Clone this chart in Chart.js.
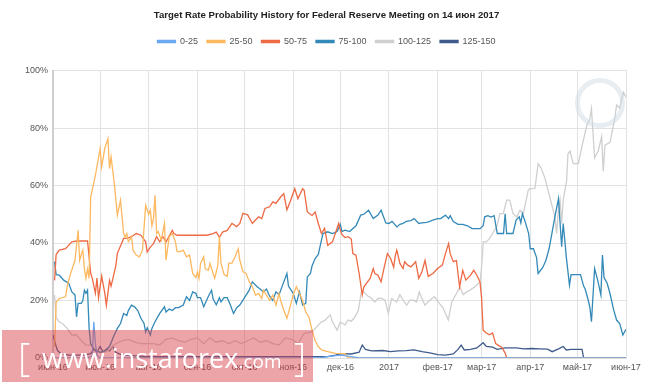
<!DOCTYPE html>
<html>
<head>
<meta charset="utf-8">
<script src="https://cdn.jsdelivr.net/npm/chart.js@4.4.0/dist/chart.umd.min.js"></script>
<style>
  html, body { margin: 0; padding: 0; background: #fff; }
  #wrap { position: relative; width: 665px; height: 385px; }
  #wm {
    position: absolute; left: 2px; top: 330px; width: 311px; height: 52px;
    background: rgba(215, 65, 75, 0.48);
    color: #fff; font-family: "Open Sans", "DejaVu Sans", sans-serif;
    white-space: nowrap; pointer-events: none;
  }
  #wm .b { position: absolute; top: 0px; font-size: 38px; font-weight: 300; }
  #wm .t { position: absolute; left: 40px; top: 9px; font-size: 27px; }
  #wm .t small { font-size: 19px; }
  #logo {
    position: absolute; left: 575px; top: 78px; width: 40px; height: 40px;
    border: 5px solid rgba(205, 215, 225, 0.45); border-radius: 50%;
    pointer-events: none;
  }
</style>
</head>
<body>
<div id="wrap">
  <canvas id="chart" width="665" height="385"></canvas>
  <div id="logo"></div>
  <div id="wm"><span class="b" style="left:16px">[</span><span class="t">www.instaforex<small>.com</small></span><span class="b" style="left:292px">]</span></div>
</div>
<script>
// x = days since 1 June 2016
const monthDays = [0, 30, 61, 92, 122, 153, 183, 214, 245, 273, 304, 334, 365];
const monthLabels = ["июн-16", "июл-16", "авг-16", "сен-16", "окт-16", "ноя-16", "дек-16", "2017", "фев-17", "мар-17", "апр-17", "май-17", "июн-17"];

const seriesNames = ["0-25", "25-50", "50-75", "75-100", "100-125", "125-150"];
const seriesColors = ["#6aa8f0", "#fdb860", "#ee6a44", "#3389b8", "#cfcfcf", "#3f5b8c"];

// probabilities in %, [day, value]
const rate0_25 = [[0,0],[20,0],[25,0.5],[26,12.6],[27,5],[28,1],[30,0],[170,0],[175,0.5],[183,1],[190,0.5],[195,0],[365,0]];

const rate25_50 = [[1,4],[2,19.5],[4,20.7],[8,21.3],[9,24.8],[11,29],[14,34],[16,44.4],[17,34],[18,36],[19,37.5],[20,31],[21,27.7],[22,31],[23,27.7],
  [24,56],[27,63.5],[30,72.8],[31,66.4],[33,73],[35,76.3],[36,65.9],[37,69.9],[39,61],[41,49.7],[43,54.9],[45,43.3],[46,42],[47,43.3],[48,40.5],
  [50,42.1],[51,37.5],[53,35.8],[55,35.2],[57,37.5],[59,53.1],[61,50],[62,51.4],[63,46],[64,48.5],[65,56.6],[66,43.3],[67,44],[69,41],[71,46.8],
  [72,34],[74,42.2],[76,43.3],[78,40.4],[79,37],[81,37],[83,37.5],[85,35.2],[87,35.8],[89,29.4],[91,28],[92,30],[93,27.7],[94,32.9],[96,35.2],
  [97,31],[99,30.5],[100,32.9],[102,29.4],[103,27.7],[105,32.3],[106,42.2],[107,33],[109,29],[111,28.4],[112,33],[114,33],[116,35.2],[118,38],
  [119,34],[121,30],[123,29.4],[125,26.5],[127,24.8],[129,21.9],[131,22.4],[133,20.7],[134,23.6],[136,21.9],[138,20.1],[140,21.9],[142,18.4],
  [144,22.4],[145,20],[147,16.7],[149,13.8],[151,17.8],[153,21.9],[155,24.8],[157,22.4],[159,20],[161,16],[163,14.3],[165,9.7],[167,6],[169,4],
  [171,2.8],[175,2.2],[180,1.6],[186,1.5],[188,0],[365,0]];

const rate50_75 = [[1,27],[2,36],[4,37.5],[8,38],[12,40.4],[15,40.7],[22,40.7],[24,29.5],[25,27.8],[27,22.5],[28,27.8],[29,21],[31,28.5],[33,22.5],
  [34,18.4],[36,27],[37,25],[40,32],[41,36.4],[43,39],[45,41.6],[47,41.6],[50,42.2],[53,43.3],[56,42.7],[59,40.4],[60,36.9],[62,38.6],[64,39.8],
  [66,42.2],[68,40.4],[70,42.2],[72,40.4],[76,44.4],[77,43.3],[79,42.7],[83,42.7],[90,42.7],[98,42.7],[102,43.3],[104,43.8],[106,42],[108,43.8],
  [111,44.4],[114,46.8],[117,45.7],[119,46.8],[121,50.3],[124,49.8],[127,46.8],[129,48],[131,49.1],[133,48.5],[135,52],[138,52.6],[140,54.3],
  [142,53.8],[145,56],[147,57.2],[149,51.5],[151,54.3],[154,58.9],[156,55.4],[159,58.9],[160,58.3],[162,50.8],[165,49.6],[167,50.8],[169,46.8],
  [171,43.3],[173,45.1],[175,39.2],[178,40.4],[182,46.8],[183,44.5],[184,43],[186,41.9],[188,42.2],[190,41.4],[191,36.3],[193,35.8],[195,29.4],
  [197,22],[198,24.7],[200,26.2],[202,27.7],[204,31.1],[205,29.4],[207,28.8],[209,26.5],[211,31.6],[213,36.3],[215,34.7],[217,31.6],[218,35.5],
  [219,37.5],[221,32.9],[223,31.1],[224,33.5],[226,32.3],[228,31.7],[231,33.5],[233,27.7],[235,30],[237,34],[239,28.4],[242,29.4],[245,31.1],
  [248,32.3],[250,36.3],[252,39.8],[253,36.3],[255,33.5],[257,33.9],[259,24.8],[261,30.5],[263,27.1],[266,28.8],[268,30.5],[270,28.8],[272,26.5],
  [273,21],[274,9.7],[276,8.7],[278,8.1],[280,8.7],[282,5],[284,4.3],[286,3.7],[288,1.7],[289,0],[365,0]];

const rate75_100 = [[1,33.5],[2,29],[4,28.8],[7,27],[10,26],[12,23],[14,22],[15,14.3],[16,19],[18,19],[19,20],[20,23.6],[21,22.5],[22,23.6],
  [23,10.3],[24,5],[26,3],[28,2.5],[30,2],[33,2.5],[36,4],[39,8],[41,10.3],[43,12],[45,15.5],[47,14.8],[48,16.5],[50,18.4],[52,17.8],[54,16.5],
  [56,13.8],[58,12],[59,9],[60,10.5],[62,8],[63,10.3],[65,12.6],[68,15.5],[71,17.8],[72,16],[74,17],[76,16.5],[78,17.5],[80,17.5],[83,18.4],
  [85,21.3],[87,20],[89,23],[91,22.5],[92,21],[94,21],[96,17.8],[99,21.5],[101,23.6],[102,20.5],[104,18.5],[106,21],[107,19.5],[109,21],[111,21],
  [113,18.4],[115,15.5],[117,17.5],[119,18.4],[122,21],[125,23.6],[127,26.5],[130,24.8],[132,24],[134,23],[136,24],[138,21.5],[140,20],[142,23],
  [144,22],[146,25],[149,29.4],[150,25],[153,22.5],[155,19],[157,23],[159,18.4],[161,19],[162,28.2],[164,29.4],[165,32],[167,34.6],[169,36],
  [171,41],[172,43.3],[175,43.9],[178,43.3],[181,44],[183,46.5],[184,44],[186,44.5],[189,44],[190,44.5],[193,46],[196,49.7],[198,50],[201,51.4],
  [204,48.5],[207,49.7],[209,51.4],[212,47],[214,46.8],[216,47.5],[219,45.6],[221,46.5],[223,46.8],[225,47.5],[228,47.8],[230,48.5],[233,46.8],
  [235,47],[238,47.2],[240,47.5],[242,48],[245,48.5],[247,48.5],[250,49.7],[252,48.5],[253,49.5],[255,47.5],[258,46.5],[261,46.5],[264,46],
  [267,45],[270,45],[272,45],[274,46],[275,49.1],[277,49.5],[279,49],[281,49.5],[283,43.3],[285,43.3],[287,43.3],[288,50.2],[289,43.3],[293,43.3],
  [295,48],[297,49.1],[298,47],[299,50.2],[301,47],[303,43.3],[304,38],[306,38],[308,35],[309,29.4],[312,31.5],[314,34],[316,38],[318,44],[320,50],
  [322,55.4],[323,47],[324,38.7],[325,46.8],[326,41],[327,35],[329,25.3],[330,29],[333,29],[336,29],[338,25],[339,24],[341,20],[342,17.5],
  [343,12.6],[345,31.1],[347,27],[349,21.9],[350,35.8],[351,28],[353,26],[355,22],[357,17],[359,13.2],[361,12],[363,8],[365,10]];

const rate100_125 = [[1,21.9],[2,14],[4,12.5],[6,12],[9,10.3],[12,8],[15,8],[18,6],[21,4.5],[24,4.5],[27,3],[30,2],[33,2],[36,3],[40,5],[44,6],
  [48,6.5],[52,5.5],[56,5],[60,5],[64,5],[68,4.5],[72,6.5],[76,7],[80,6],[84,5.5],[88,6.5],[92,7],[96,5],[100,7],[104,5.5],[108,6],[112,5],
  [116,6],[120,5],[124,6],[128,7],[132,5.5],[136,6],[140,5],[144,4.5],[148,7],[152,6.5],[156,5],[160,8.6],[165,9.1],[171,12.6],[173,13],
  [176.6,15],[178,12.6],[181,9.7],[183,12.5],[186,11.5],[188,13.2],[190,12.8],[192,14],[194.5,16.5],[196.6,23.6],[198.7,22.5],[200.8,21.5],
  [203,20.7],[205,19.5],[207,20.7],[209.4,20.7],[211.5,20.1],[213.6,15.5],[215.7,20.7],[218.9,19.5],[221,22],[223,20.1],[225.3,18.4],[227.4,20.1],
  [229.5,20.1],[231.6,19.5],[233.3,23],[234.8,21],[236.9,18.4],[240,20.1],[243,21.3],[245.4,19.5],[248.6,17.3],[251.8,13.2],[254,19.5],
  [257.1,22.5],[259.2,24.8],[261.3,22],[263.5,23],[265.6,23.6],[268.8,24.8],[272,26.5],[273,31.7],[274.1,40.4],[276,40.4],[278,41.5],[280,43.3],
  [282.6,45.6],[284.7,50.2],[286.8,50.2],[289,54.9],[291,54.9],[293,50.2],[295.4,49.1],[297.5,51.4],[299.6,50.2],[302.7,58.3],[303.8,58.9],
  [307,59],[309,67.6],[311,66],[313.4,62.5],[315.5,58],[317.6,53.5],[319.7,49.1],[320.8,43.3],[321.8,50.8],[323,55],[324,46.8],[325,55],
  [327.2,61.8],[328,71],[329.3,72],[331.4,67.6],[334.6,67.6],[336.7,73],[340,80.9],[342,83.2],[343,86.7],[345,69.6],[347.3,72],[349.5,77],
  [350.5,65],[351.6,74],[354.8,75],[357,81],[358,84],[359,88],[361,87],[363.3,92.5],[365,90.7]];

const rate125_150 = [[0,8],[2,4],[3,2.5],[5,1.5],[10,1],[20,1],[24,1.5],[26,3],[28,2],[30,4],[32,2],[34,3],[36,2.5],[38,4],[40,2],[44,1],[50,0.8],
  [60,0.5],[100,0.5],[150,0.5],[175,0.5],[180,1],[184,1.5],[190,1.4],[195,2],[197,4.5],[199,3],[203,2.5],[210,2.6],[215,2.2],[220,2.5],[225,2.6],
  [230,2.8],[235,2.2],[240,1.8],[245,1.2],[250,1],[255,1.4],[258,3],[260,4.5],[262,2.8],[266,3],[270,3.5],[274,5.3],[276,4],[280,3.8],[283,3],
  [288,3.5],[295,3.5],[300,3.2],[305,3.3],[310,3.2],[315,3.1],[318,2.2],[322,3.2],[325,4],[327,2.8],[330,3],[335,3],[337,3],[338,0],[365,0]];

const yTicks = [0, 20, 40, 60, 80, 100];

const allSeries = [rate0_25, rate25_50, rate50_75, rate75_100, rate100_125, rate125_150];

// extra room under the legend
const legendGap = {
  id: "legendGap",
  beforeInit(chart) {
    const fit = chart.legend.fit;
    chart.legend.fit = function () {
      fit.call(this);
      this.height += 14.5;
    };
  }
};

new Chart(document.getElementById("chart"), {
  type: "line",
  data: {
    datasets: allSeries.map((s, i) => ({
      label: seriesNames[i],
      data: s.map(([x, y]) => ({ x, y })),
      borderColor: seriesColors[i],
      backgroundColor: seriesColors[i],
      borderWidth: 1.3,
      pointRadius: 0,
      tension: 0,
      fill: false
    }))
  },
  options: {
    responsive: false,
    animation: false,
    layout: { padding: { left: 0, right: 12, top: 0, bottom: 0 } },
    plugins: {
      title: {
        display: true,
        text: "Target Rate Probability History for Federal Reserve Meeting on 14 июн 2017",
        color: "#222",
        font: { family: "Liberation Sans, Arial, sans-serif", size: 9.6, weight: "bold" },
        padding: { top: 9.5, bottom: 7 }
      },
      legend: {
        labels: {
          boxWidth: 18,
          boxHeight: 2,
          padding: 9,
          color: "#555",
          font: { family: "Liberation Sans, Arial, sans-serif", size: 9 }
        }
      },
      tooltip: { enabled: false }
    },
    scales: {
      x: {
        type: "linear",
        min: 0,
        max: 365,
        afterBuildTicks: scale => { scale.ticks = monthDays.map(v => ({ value: v })); },
        afterFit: scale => { scale.height = 27; scale.paddingRight = 39; },
        ticks: {
          autoSkip: false,
          maxRotation: 0,
          padding: 4,
          color: "#555",
          font: { family: "Liberation Sans, Arial, sans-serif", size: 9 },
          callback: v => monthLabels[monthDays.indexOf(v)]
        },
        grid: { color: "#e2e2e2", drawTicks: false },
        border: { color: "#ddd" }
      },
      y: {
        min: 0,
        max: 100,
        afterBuildTicks: scale => { scale.ticks = yTicks.map(v => ({ value: v })); },
        afterFit: scale => { scale.width = 53; },
        ticks: {
          padding: 5,
          color: "#555",
          font: { family: "Liberation Sans, Arial, sans-serif", size: 9 },
          callback: v => v + "%"
        },
        grid: { color: "#e2e2e2", drawTicks: false },
        border: { color: "#cfcfcf", width: 2 }
      }
    }
  },
  plugins: [legendGap]
});
</script>
</body>
</html>
